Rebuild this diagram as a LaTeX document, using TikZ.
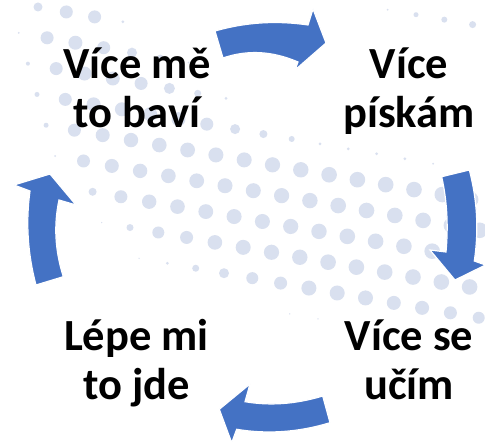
\documentclass[tikz,border=0pt]{standalone}
\usepackage{fontspec}
\setmainfont{Carlito}
\definecolor{ablue}{HTML}{4472C4}
\definecolor{dotc}{RGB}{217,224,239}
\begin{document}
\begin{tikzpicture}[x=1pt,y=-1pt,
  arrowfill/.style={fill=ablue,draw=white,line width=1.2pt,line join=miter},
  lbl/.style={font=\fontsize{44.5}{49}\selectfont\bfseries,align=center,inner sep=0pt,anchor=base},
  dotfill/.style={fill=dotc}]
\fill[white] (0,0) rectangle (485,443);
\useasboundingbox (0,0) rectangle (485,443);
% halftone dots: lattice p = (38,7) + i*(28.3,4.95) + j*(9.1,30.8)
\newcommand{\dotrow}[3]{%
  \foreach \r [count=\i from #2] in {#3} {%
    \fill[dotfill] ({38+28.3*\i+9.1*#1},{7+4.95*\i+30.8*#1}) circle[radius=\r pt];
  }}
\dotrow{-2}{13}{1,2.5,3,3.5}
\dotrow{0}{0}{4.5,6.5,6.5,1.5}
\dotrow{1}{-1}{1,6.5,7,6.5,5,3,1}
\dotrow{2}{-1}{2,6.5,7,7,6.5,5.5,3.5,1.5}
\dotrow{3}{-1}{2.5,6.5,7,7,7,7,6.5,5,4,3,1.5,1.5,1.5,1.5,1}
\dotrow{4}{-1}{2.5,6.5,7,7.2,7.3,7.4,7.5,7.5,7.6,7.7,7.8,7.8,7.8,7.8,7.8,7.8}
\dotrow{5}{-1}{1,6.5,7,7.2,7.3,7.4,7.5,7.5,7.6,7.7,7.8,7.8,7.8,7.8,7.8,7.8}
\dotrow{6}{0}{4,6.5,7.2,7.3,7.4,7.5,7.5,7.6,7.7,7.8,7.8,7.8,7.8,7.8}
\dotrow{7}{0}{0.7,3.5,6,6.5,7.3,7.5,7.6,7.7,7.8,7.8,7.8,7.8,7.8,7.8}
\dotrow{8}{1}{0.7,1.5,3.5,5,6,6.5,7.5,7.5,7.5,7,7,6.5,6}
\dotrow{9}{6}{0.7,0.7}
% arrows
\fill[arrowfill] (215,31) .. controls (245.3,22.3) and (276.3,20.3) .. (308,25)
  -- (313,9) -- (326,43) -- (295,70) -- (298,62)
  .. controls (272.3,50.9) and (247.3,49.6) .. (223,58) -- cycle;
\fill[arrowfill] (469.3,170) .. controls (477.2,199.7) and (478.9,230) .. (474.3,261)
  -- (485.5,265) -- (455,280) -- (430,250) -- (446,252)
  .. controls (448.5,225.1) and (447,200.7) .. (441.7,176.7) -- cycle;
\fill[arrowfill] (322.7,396) .. controls (296.1,404.1) and (270.2,406) .. (245,401.7)
  -- (250,384) -- (219.3,409.3) -- (231.7,442.7) -- (236.7,429.3)
  .. controls (267.7,434.4) and (298.8,432.2) .. (330,422.7) -- cycle;
\fill[arrowfill] (36,285) .. controls (27.7,253.7) and (25.7,222.3) .. (30,191)
  -- (14,185) -- (50,174) -- (76,205) -- (59,200)
  .. controls (53.6,225.1) and (55,250.7) .. (63.3,276.7) -- cycle;
% labels (base anchor = baseline of the last line)
\node[lbl] (tl) at (137,128) {Více mě\\to baví};
\node[lbl] (tr) at (409,128) {Více\\pískám};
\node[lbl] (bl) at (136.5,400) {Lépe mi\\to jde};
\node[lbl] (br) at (409,400) {Více se\\učím};
\end{tikzpicture}
\end{document}
